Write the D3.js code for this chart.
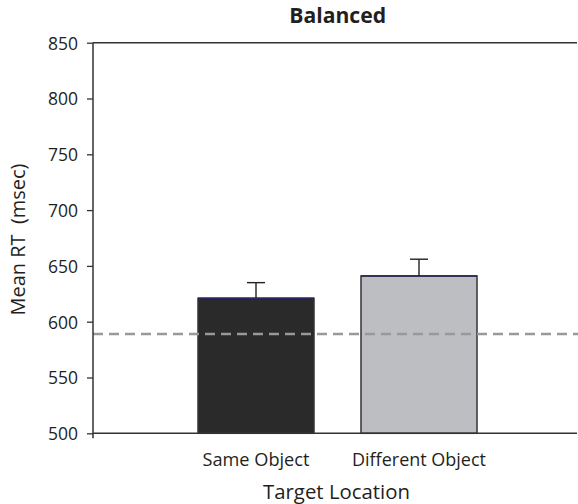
<!DOCTYPE html>
<html>
<head>
<meta charset="utf-8">
<script src="https://cdn.jsdelivr.net/npm/d3@7"></script>
<style>
html,body{margin:0;padding:0;background:#fff;}
svg{display:block;font-family:"Open Sans","Noto Sans",sans-serif;}
</style>
</head>
<body>
<svg id="chart" width="578" height="504"></svg>
<script>
const categories = ["Same Object", "Different Object"];
const meanRT = [621, 641];
const errorTop = [635, 656];
const baseline = 589;
const barColors = ["#2a2a2a", "#bdbec2"];
const yTicks = [500, 550, 600, 650, 700, 750, 800, 850];
const title = "Balanced";
const xTitle = "Target Location";
const yTitle = "Mean RT\u00a0\u00a0(msec)";

(function () {
const svg = d3.select("#chart");
const mLeft = 93, mRight = 582, mTop = 42.7, mBottom = 433.3;
const x = d3.scaleLinear().domain([0, categories.length + 1]).range([mLeft, mRight]);
const y = d3.scaleLinear().domain([500, 850]).range([mBottom, mTop]);
const barW = 116;
const axisColor = "#333";
const textColor = "#231f20";

// scale a text's font-size so that its width matches a target width
function fit(sel, base, target) {
  sel.attr("font-size", base);
  const w = sel.node().getComputedTextLength();
  if (w > 0) sel.attr("font-size", base * target / w);
  return sel;
}

svg.append("line").attr("x1", mLeft).attr("x2", 577).attr("y1", y(850)).attr("y2", y(850))
  .attr("stroke", axisColor).attr("stroke-width", 1.5);

categories.forEach((c, i) => {
  const cx = x(i + 1);
  svg.append("rect").attr("x", cx - barW / 2).attr("y", y(meanRT[i]))
    .attr("width", barW).attr("height", y(500) - y(meanRT[i]))
    .attr("fill", barColors[i]).attr("stroke", axisColor).attr("stroke-width", 1.5);
  svg.append("line").attr("x1", cx - barW / 2).attr("x2", cx + barW / 2)
    .attr("y1", y(meanRT[i])).attr("y2", y(meanRT[i]))
    .attr("stroke", "#26265e").attr("stroke-width", 1.6);
  svg.append("line").attr("x1", cx).attr("x2", cx).attr("y1", y(meanRT[i])).attr("y2", y(errorTop[i]))
    .attr("stroke", "#222").attr("stroke-width", 1.4);
  svg.append("line").attr("x1", cx - 9).attr("x2", cx + 9).attr("y1", y(errorTop[i])).attr("y2", y(errorTop[i]))
    .attr("stroke", "#222").attr("stroke-width", 1.4);
});

svg.append("line").attr("x1", mLeft).attr("x2", 578).attr("y1", y(baseline)).attr("y2", y(baseline))
  .attr("stroke", "#999").attr("stroke-width", 2.6).attr("stroke-dasharray", "10,6");

const yAxis = d3.axisLeft(y).tickValues(yTicks).tickSize(6).tickPadding(9).tickFormat(d3.format("d"));
const gy = svg.append("g").attr("transform", `translate(${mLeft},0)`).call(yAxis);
gy.select(".domain").attr("stroke", axisColor).attr("stroke-width", 1.5).attr("d", `M0,${mBottom + 5}V${mTop}`);
gy.selectAll(".tick line").attr("stroke", axisColor).attr("stroke-width", 1.3);
gy.selectAll(".tick text").attr("font-size", 17.5).attr("fill", textColor)
  .attr("font-family", "Open Sans").attr("dy", "0.36em");

svg.append("line").attr("x1", mLeft).attr("x2", 577).attr("y1", mBottom).attr("y2", mBottom)
  .attr("stroke", axisColor).attr("stroke-width", 1.5);
const catWidths = [107, 134];
categories.forEach((c, i) => {
  const t = svg.append("text").attr("x", x(i + 1)).attr("y", 466).attr("text-anchor", "middle")
    .attr("fill", textColor).text(c);
  fit(t, 16, catWidths[i]);
});

fit(svg.append("text").attr("x", 336.5).attr("y", 499).attr("text-anchor", "middle")
  .attr("fill", textColor).text(xTitle), 18, 147);

fit(svg.append("text").attr("x", 337.7).attr("y", 23).attr("text-anchor", "middle")
  .attr("font-weight", "bold").attr("fill", textColor).text(title), 18, 97);

fit(svg.append("text").attr("transform", `translate(25,239.5) rotate(-90)`)
  .attr("text-anchor", "middle").attr("fill", textColor).text(yTitle), 17, 152);
})();
</script>
</body>
</html>
